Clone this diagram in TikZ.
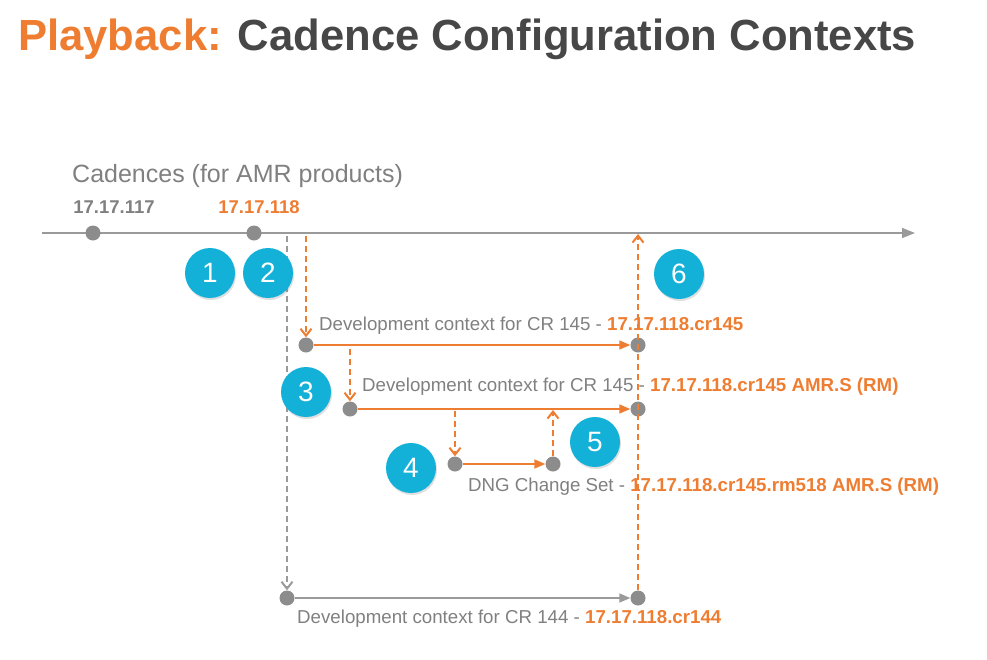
\documentclass[tikz,border=0pt]{standalone}
\usepackage{fontspec}
\setmainfont{Liberation Sans}
\usetikzlibrary{arrows.meta,shadows}

\definecolor{pborange}{HTML}{EE7D31}
\definecolor{pbgray}{HTML}{808080}
\definecolor{pbdark}{HTML}{474747}
\definecolor{pbline}{HTML}{9A9A9A}
\definecolor{pbdot}{HTML}{8C8C8C}
\definecolor{pbblue}{HTML}{13B1D8}

\newcommand{\vtag}[1]{\textcolor{pborange}{\bfseries #1}}

\begin{document}
\begin{tikzpicture}[line cap=butt,line join=round,x=1pt,y=-1pt]
\useasboundingbox (0,0) rectangle (987,659);
\tikzstyle{dot}=[circle, fill=pbdot, inner sep=0pt, minimum size=15pt]
\tikzstyle{badge}=[circle, fill=pbblue, text=white, inner sep=0pt, minimum size=50pt,
  font=\fontsize{28}{28}\selectfont, drop shadow={opacity=0.25, shadow xshift=1pt, shadow yshift=-2pt}]
\tikzstyle{lbl}=[anchor=base west, inner sep=0pt, text=pbgray, font=\fontsize{18.7}{22}\selectfont]
\tikzstyle{flow}=[line width=1.6pt, color=pborange, -{Triangle[length=11pt,width=9pt]}]
\tikzstyle{jump}=[line width=1.5pt, color=pborange, dash pattern=on 6pt off 4pt,
  -{Straight Barb[length=7pt,width=11pt,line width=2pt]}]

% title
\node[anchor=base west, inner sep=0pt, font=\fontsize{43.6}{48}\selectfont\bfseries] (title) at (18,50)
  {\textcolor{pborange}{Playback:} \textcolor{pbdark}{Cadence Configuration Contexts}};

% cadence timeline
\node[anchor=base west, inner sep=0pt, text=pbgray, font=\fontsize{25}{28}\selectfont] (cadences) at (72,182) {Cadences (for AMR products)};
\node[anchor=base, inner sep=0pt, text=pbgray, font=\fontsize{18.5}{22}\selectfont\bfseries] (l117) at (114,213) {17.17.117};
\node[anchor=base, inner sep=0pt, text=pborange, font=\fontsize{18.5}{22}\selectfont\bfseries] (l118) at (259,213) {17.17.118};
\coordinate (tstart) at (42,233);
\coordinate (tend) at (915,233);
\draw[line width=1.6pt, color=pbline, -{Triangle[length=13pt,width=10pt]}] (tstart) -- (tend);
\node[dot] (c117) at (93,233) {};
\node[dot] (c118) at (254,233) {};

% contexts
\node[dot] (r1a) at (306,345) {};
\node[dot] (r1b) at (638,345) {};
\node[dot] (r2a) at (350,409) {};
\node[dot] (r2b) at (638,409) {};
\node[dot] (r3a) at (455,464) {};
\node[dot] (r3b) at (553,464) {};
\node[dot] (r4a) at (287,598) {};
\node[dot] (r4b) at (638,598) {};

\node[lbl] (t1) at (319,330) {Development context for CR 145 - \vtag{17.17.118.cr145}};
\node[lbl] (t2) at (362,391) {Development context for CR 145 - \vtag{17.17.118.cr145 AMR.S (RM)}};
\node[lbl] (t3) at (468,491) {DNG Change Set - \vtag{17.17.118.cr145.rm518 AMR.S (RM)}};
\node[lbl] (t4) at (297,623) {Development context for CR 144 - \vtag{17.17.118.cr144}};

\draw[flow] (r1a) -- (r1b);
\draw[flow] (r2a) -- (r2b);
\draw[flow] (r3a) -- (r3b);
\draw[line width=1.6pt, color=pbline, -{Triangle[length=11pt,width=9pt]}] (r4a) -- (r4b);

% branch / merge steps
\coordinate (s1) at (306,236);
\coordinate (s2) at (350,349);
\coordinate (s3) at (455,411);
\coordinate (m5) at (553,410);
\coordinate (m6) at (638,234);
\coordinate (s0) at (287,236);
\draw[line width=1.5pt, color=pbline, dash pattern=on 6pt off 4pt,
  -{Straight Barb[length=7pt,width=11pt,line width=2pt]}] (s0) -- (r4a);
\draw[jump] (s1) -- (r1a);
\draw[jump] (s2) -- (r2a);
\draw[jump] (s3) -- (r3a);
\draw[jump] (r3b) -- (m5);
\draw[jump] (r4b) -- (m6);

% numbered steps
\node[badge] (n1) at (210,273) {1};
\node[badge] (n2) at (268,273) {2};
\node[badge] (n6) at (679,274) {6};
\node[badge] (n3) at (306,392) {3};
\node[badge] (n4) at (411,468) {4};
\node[badge] (n5) at (595,442) {5};
\end{tikzpicture}
\end{document}
